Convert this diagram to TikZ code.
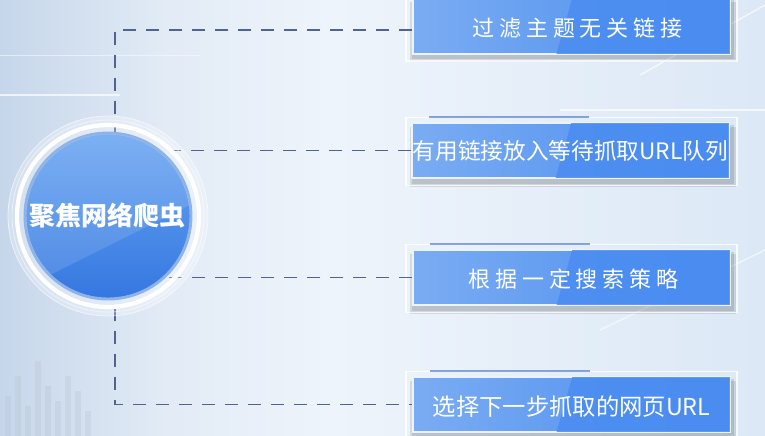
\documentclass[tikz,border=0pt]{standalone}
\usepackage{fontspec}
\newfontfamily\cjk{Noto Sans CJK SC}
\usetikzlibrary{calc}
\definecolor{bgA}{HTML}{C6D6EA}
\definecolor{bgB}{HTML}{EEF4FB}
\definecolor{bgC}{HTML}{DCE8F6}
\definecolor{dashc}{HTML}{51648F}
\definecolor{boxL}{HTML}{7AACF2}
\definecolor{boxR}{HTML}{4A8CF0}
\definecolor{diskA}{HTML}{6AA6F2}
\definecolor{diskB}{HTML}{3577E0}
\definecolor{ringc}{HTML}{8DB3E8}
\pgfdeclarelayer{bg}
\pgfdeclarelayer{lines}
\pgfsetlayers{bg,lines,main}
\tikzset{
  connector/.style={draw=dashc, line width=1.1pt, dash pattern=on 9.75pt off 7.5pt},
  stepbox/.style={rectangle, minimum width=237.75pt, minimum height=41.25pt, inner sep=0pt,
    left color=boxL, right color=boxR, draw=white!85!boxL, line width=0.9pt,
    text=white, font=\cjk},
  hubdisk/.style={circle, minimum size=124.5pt, inner sep=0pt,
    top color=diskA, bottom color=diskB, draw=ringc, line width=2.2pt,
    text=white, font=\cjk\bfseries\fontsize{19pt}{22pt}\selectfont}
}
\begin{document}
\begin{tikzpicture}[x=0.75pt,y=-0.75pt]
\useasboundingbox (0,0) rectangle (765,436);
% background
\begin{pgfonlayer}{bg}
\shade[left color=bgA, right color=bgB, middle color=bgB!70!bgA] (0,0) rectangle (330,436);
\shade[left color=bgB, right color=bgC] (330,0) rectangle (765,436);
\draw[white, line width=1pt, opacity=0.7] (640,75) -- (765,5);
\draw[white, line width=1pt, opacity=0.6] (600,330) -- (765,250);
\draw[white, line width=0.8pt, opacity=0.7] (560,110) -- (765,110);
\draw[white, line width=0.8pt, opacity=0.7] (0,95) -- (120,95);
\draw[white, line width=0.6pt, opacity=0.5] (0,55) -- (200,55);
\foreach \xx/\hh in {5/40,15/60,25/30,35/75,45/50,55/35,65/60,75/45,85/25}
  \fill[bgA!80!gray, opacity=0.35] (\xx,436) rectangle ++(6,-\hh);
% box frames and shadows
\foreach \yy in {26,150.5,277.5,404.5}{
  \fill[black, opacity=0.10] (410,\yy-24) rectangle (736,\yy+36);
  \fill[black, opacity=0.10] (412,\yy-26) rectangle (734,\yy+33);
  \draw[white, opacity=0.8, line width=0.8pt] (406,\yy-33) rectangle (737,\yy+35);
}
\end{pgfonlayer}

% circle hub
\fill[white, opacity=0.25] (108,216) circle (100);
\draw[white, opacity=0.6, line width=0.6pt] (108,216) circle (100);
\draw[white, opacity=0.5, line width=0.6pt] (108,216) circle (96);
\draw[white, line width=3.2pt] (108,216) circle (91);
\node[hubdisk] (hub) at (108,216) {};
\begin{scope}
  \clip (108,216) circle (82);
  \fill[white, opacity=0.12] (20,120) -- (200,120) -- (200,200) -- (20,290) -- cycle;
\end{scope}
\node[text=white, font=\cjk\bfseries\fontsize{19.5pt}{22pt}\selectfont] (hubtext) at (hub.center) {聚焦网络爬虫};

% boxes
\node[stepbox] (b1) at (571.5,26) {};
\node[stepbox] (b2) at (570.5,150.5) {};
\node[stepbox] (b3) at (571.5,277.5) {};
\node[stepbox] (b4) at (571.5,404.5) {};
\foreach \b in {b1,b2,b3,b4}{
  \fill[boxR, opacity=0.85] ($(\b.north west)+(160,0)$) -- (\b.north east) -- (\b.south east) -- ($(\b.south west)+(144,0)$) -- cycle;
  \draw[white!85!boxL, line width=0.9pt] (\b.north west) rectangle (\b.south east);
  \draw[boxR!80!black, opacity=0.6, line width=1.5pt] ($(\b.north west)+(18,-5)$) -- ++(160,0);
}
\node[text=white, font=\cjk\fontsize{16.5pt}{20pt}\selectfont\addfontfeature{LetterSpace=22}] (t1) at ($(b1.center)+(6,2)$) {过滤主题无关链接};
\node[text=white, font=\cjk\fontsize{17pt}{20pt}\selectfont] (t2) at (b2.center) {有用链接放入等待抓取URL队列};
\node[text=white, font=\cjk\fontsize{16.5pt}{20pt}\selectfont\addfontfeature{LetterSpace=22}] (t3) at ($(b3.center)+(2,2)$) {根据一定搜索策略};
\node[text=white, font=\cjk\fontsize{17.5pt}{20pt}\selectfont] (t4) at ($(b4.center)+(0,2)$) {选择下一步抓取的网页URL};

% connectors
\begin{pgfonlayer}{lines}
\coordinate (spine) at (115,30);
\draw[connector] (b1.west |- spine) -- (spine) -- (spine |- b4.west) -- (b4.west);
\draw[connector] (b2.west) -- (b2.west -| hub.center);
\draw[connector] (b3.west) -- (b3.west -| hub.center);
\end{pgfonlayer}
\end{tikzpicture}
\end{document}
